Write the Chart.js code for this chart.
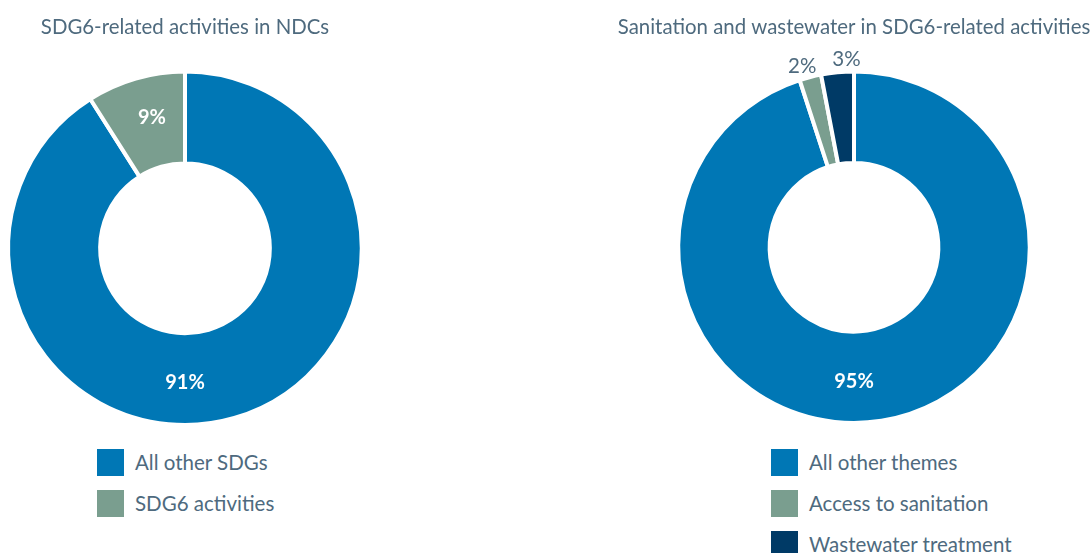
<!DOCTYPE html>
<html>
<head>
<meta charset="utf-8">
<script src="https://cdn.jsdelivr.net/npm/chart.js@4.4.1/dist/chart.umd.min.js"></script>
<style>
  html, body { margin: 0; padding: 0; background: #fff; }
  body { width: 1092px; height: 553px; position: relative; overflow: hidden; font-family: Lato, sans-serif; }
  .box { position: absolute; top: 0; height: 430px; }
  .legend { position: absolute; color: #4e6a7e; font-size: 20.5px; }
  .legend .item { position: relative; height: 41px; }
  .legend .sw { position: absolute; left: 0; top: 0; width: 27px; height: 27px; }
  .legend .txt { position: absolute; left: 38px; top: 0; line-height: 27px; white-space: nowrap; }
</style>
</head>
<body>
<div class="box" style="left:0;width:370px"><canvas id="chartLeft"></canvas></div>
<div class="box" style="left:616px;width:476px"><canvas id="chartRight"></canvas></div>
<div class="legend" id="legendLeft" style="left:97px;top:449px"></div>
<div class="legend" id="legendRight" style="left:771px;top:449px"></div>
<script>
const TEXT = '#4e6a7e';

const leftTitle = 'SDG6-related activities in NDCs';
const leftLabels = ['All other SDGs', 'SDG6 activities'];
const leftValues = [91, 9];
const leftColors = ['#0077b5', '#7a9e8f'];

const rightTitle = 'Sanitation and wastewater in SDG6-related activities';
const rightLabels = ['All other themes', 'Access to sanitation', 'Wastewater treatment'];
const rightValues = [95, 2, 3];
const rightColors = ['#0077b5', '#7a9e8f', '#003a66'];

// draws the % labels on / next to the slices
const pctLabels = {
  id: 'pctLabels',
  afterDatasetsDraw(chart, args, opts) {
    const ctx = chart.ctx;
    const data = chart.data.datasets[0].data;
    chart.getDatasetMeta(0).data.forEach((arc, i) => {
      const p = arc.getProps(['x', 'y', 'startAngle', 'endAngle', 'innerRadius', 'outerRadius'], true);
      const mode = opts.modes[i];
      let ang = (p.startAngle + p.endAngle) / 2 + (opts.shift[i] || 0) * Math.PI / 180;
      let r = (p.innerRadius + p.outerRadius) / 2 + 4;
      if (mode === 'bottom') ang = Math.PI / 2;
      if (mode === 'outside') r = p.outerRadius + 12;
      ctx.save();
      ctx.font = mode === 'outside' ? '20.5px Lato' : 'bold 20px Lato';
      ctx.fillStyle = mode === 'outside' ? TEXT : '#fff';
      ctx.textAlign = 'center';
      ctx.textBaseline = 'middle';
      ctx.fillText(data[i] + '%', p.x + Math.cos(ang) * r, p.y + Math.sin(ang) * r);
      ctx.restore();
    });
  }
};

function makeChart(id, title, labels, values, colors, padBottom, labelOpts) {
  return new Chart(document.getElementById(id), {
    type: 'doughnut',
    data: {
      labels: labels,
      datasets: [{
        data: values,
        backgroundColor: colors,
        borderColor: '#fff',
        borderWidth: 4
      }]
    },
    options: {
      responsive: true,
      maintainAspectRatio: false,
      animation: false,
      cutout: '48%',
      layout: { padding: { bottom: padBottom } },
      plugins: {
        legend: { display: false },
        tooltip: { enabled: false },
        title: {
          display: true,
          text: title,
          color: TEXT,
          font: { family: 'Lato', size: 20.4, weight: 'normal' },
          padding: { top: 15, bottom: 30 }
        },
        pctLabels: labelOpts
      }
    },
    plugins: [pctLabels]
  });
}

function makeLegend(elId, labels, colors) {
  const el = document.getElementById(elId);
  labels.forEach((l, i) => {
    el.innerHTML += '<div class="item"><div class="sw" style="background:' + colors[i] + '"></div><div class="txt">' + l + '</div></div>';
  });
}

makeChart('chartLeft', leftTitle, leftLabels, leftValues, leftColors, 3,
  { modes: ['bottom', 'mid'], shift: [0, 2] });
makeChart('chartRight', rightTitle, rightLabels, rightValues, rightColors, 5,
  { modes: ['bottom', 'outside', 'outside'], shift: [0, -1.6, 3.1] });

makeLegend('legendLeft', leftLabels, leftColors);
makeLegend('legendRight', rightLabels, rightColors);
</script>
</body>
</html>
